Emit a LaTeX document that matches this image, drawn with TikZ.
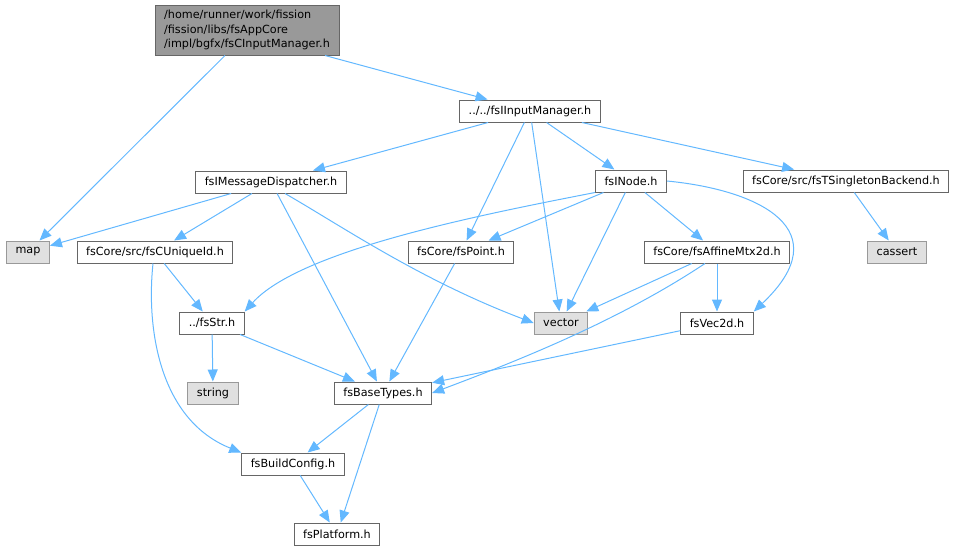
\documentclass[tikz,border=0pt]{standalone}
\usepackage{fontspec}
\setmainfont{DejaVu Sans}
\usetikzlibrary{arrows.meta}

\definecolor{edgeblue}{HTML}{63B8FF}
\definecolor{boxgray}{HTML}{666666}
\definecolor{extfill}{HTML}{E0E0E0}
\definecolor{extline}{HTML}{999999}
\definecolor{rootfill}{HTML}{999999}

\begin{document}
\begin{tikzpicture}[
    x=1pt, y=-1pt,
    font=\fontsize{11.2}{14.5}\selectfont,
    file/.style={draw=boxgray, fill=white, line width=1pt, minimum height=22pt, inner xsep=9pt, inner ysep=0pt},
    ext/.style={file, draw=extline, fill=extfill},
    dep/.style={draw=edgeblue, line width=1pt, -{Triangle[length=12pt,width=10pt]}}
]
    \useasboundingbox (0,0) rectangle (956,552);

    \node [file, fill=rootfill, align=left, minimum height=50pt, minimum width=184pt, inner xsep=7pt, inner ysep=2pt] (root) at (247,30)
        {/home/runner/work/fission\\/fission/libs/fsAppCore\\/impl/bgfx/fsCInputManager.h};
    \node [file] (inputmgr) at (530,111) {../../fsIInputManager.h};
    \node [file] (msgdisp) at (271,182) {fsIMessageDispatcher.h};
    \node [file] (inode) at (631,181) {fsINode.h};
    \node [file] (singleton) at (846,181) {fsCore/src/fsTSingletonBackend.h};
    \node [ext] (map) at (28,252) {map};
    \node [file] (uniqueid) at (155,252) {fsCore/src/fsCUniqueId.h};
    \node [file] (point) at (461,252) {fsCore/fsPoint.h};
    \node [file] (affine) at (717,252) {fsCore/fsAffineMtx2d.h};
    \node [ext] (cassert) at (897,252) {cassert};
    \node [file] (fsstr) at (212,323) {../fsStr.h};
    \node [ext] (vector) at (561,323) {vector};
    \node [file] (vec2d) at (717,323) {fsVec2d.h};
    \node [ext] (string) at (213,393) {string};
    \node [file] (basetypes) at (383,393) {fsBaseTypes.h};
    \node [file] (buildconfig) at (293,464) {fsBuildConfig.h};
    \node [file] (platform) at (337,534) {fsPlatform.h};

    % root file
    \draw [dep] (root.south -| 225,0) -- (map);
    \draw [dep] (root.south -| 325,0) -- (inputmgr);

    % input manager
    \draw [dep] (inputmgr) -- (msgdisp);
    \draw [dep] (inputmgr) -- (point);
    \draw [dep] (inputmgr) -- (vector);
    \draw [dep] (inputmgr) -- (inode);
    \draw [dep] (inputmgr) -- (singleton);

    % message dispatcher
    \draw [dep] (msgdisp) -- (map);
    \draw [dep] (msgdisp) -- (uniqueid);
    \draw [dep] (msgdisp) -- (basetypes);
    \draw [dep] (msgdisp.south -| 285,0) .. controls (340,225) and (420,280) .. (vector.west);

    % node
    \draw [dep] (inode.south west) .. controls (480,215) and (300,250) .. (fsstr.north east);
    \draw [dep] (inode) -- (point);
    \draw [dep] (inode) -- (vector);
    \draw [dep] (inode) -- (affine);
    \draw [dep] (inode.east) .. controls (760,190) and (840,230) .. (vec2d.north east);

    \draw [dep] (singleton) -- (cassert);

    % unique id
    \draw [dep] (uniqueid.south -| 153,0) .. controls (146,330) and (160,420) .. (buildconfig.north west);
    \draw [dep] (uniqueid) -- (fsstr);

    \draw [dep] (point) -- (basetypes);

    % affine matrix
    \draw [dep] (affine) -- (vector);
    \draw [dep] (affine) -- (vec2d);
    \draw [dep] (affine.south -| 705,0) .. controls (620,320) and (520,360) .. (basetypes.east);

    \draw [dep] (fsstr) -- (string);
    \draw [dep] (fsstr) -- (basetypes);
    \draw [dep] (vec2d) -- (basetypes);

    % base types
    \draw [dep] (basetypes) -- (buildconfig);
    \draw [dep] (basetypes) -- (platform);
    \draw [dep] (buildconfig) -- (platform);
\end{tikzpicture}
\end{document}
